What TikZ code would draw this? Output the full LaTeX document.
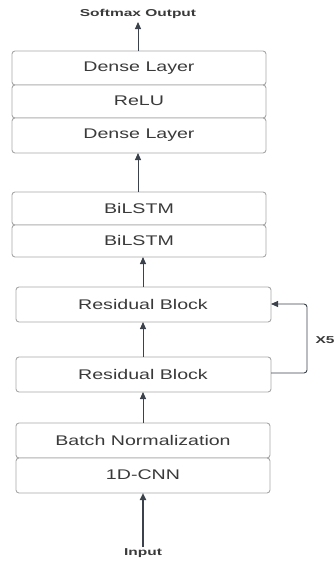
\documentclass[tikz,border=0pt]{standalone}
\usepackage{fontspec}
\setmainfont{Liberation Sans}
\newfontfamily\boxfont[FakeStretch=1.4]{Liberation Sans}
\newfontfamily\lblfont[FakeStretch=1.55]{Liberation Sans}
\usetikzlibrary{arrows.meta}
\definecolor{txt}{HTML}{3A3A3A}
\definecolor{edge}{HTML}{A8A8A8}
\definecolor{arr}{HTML}{3B424C}
\tikzset{
  layer/.style={draw=edge, line width=0.9pt, rounded corners=3pt, fill=white},
  ltext/.style={text=txt, font=\boxfont\fontsize{14}{14}\selectfont, inner sep=0pt},
  blabel/.style={text=txt, font=\lblfont\bfseries\fontsize{10}{10}\selectfont, inner sep=0pt},
  flow/.style={draw=arr, line width=0.9pt, -{Triangle[length=7pt,width=6pt]}},
  thickflow/.style={draw=arr, line width=1.8pt, -{Triangle[length=7pt,width=6pt]}},
}
\begin{document}
\begin{tikzpicture}[x=1pt,y=-1pt]
\useasboundingbox (0,0) rectangle (335,563);
% top group
\draw[layer] (12,51) rectangle (266,85);
\draw[layer] (12,85) rectangle (266,118);
\draw[layer] (12,118) rectangle (266,153);
\node[ltext] (d2) at (139,68) {Dense Layer};
\node[ltext] (relu) at (139,101) {ReLU};
\node[ltext] (d1) at (139,135) {Dense Layer};
\coordinate (topT) at (138,51);
\coordinate (topB) at (138,153);
% bilstm group
\draw[layer] (12,192) rectangle (266,225);
\draw[layer] (12,225) rectangle (266,257);
\node[ltext] (b2) at (139,208) {BiLSTM};
\node[ltext] (b1) at (139,240) {BiLSTM};
\coordinate (biT) at (138,192);
\coordinate (biB) at (143,257);
% residual blocks
\draw[layer] (16,287) rectangle (271,322);
\node[ltext] (r1) at (143,304) {Residual Block};
\draw[layer] (16,357) rectangle (271,392);
\node[ltext] (r2) at (143,374) {Residual Block};
\coordinate (r1T) at (143,287);
\coordinate (r1B) at (143,322);
\coordinate (r1R) at (271,304);
\coordinate (r2T) at (143,357);
\coordinate (r2B) at (143,392);
\coordinate (r2R) at (271,373);
% batch norm / cnn
\draw[layer] (16,423) rectangle (270,458);
\draw[layer] (16,458) rectangle (270,493);
\node[ltext] (bn) at (143,440) {Batch Normalization};
\node[ltext] (cnn) at (143,475) {1D-CNN};
\coordinate (bnT) at (143,423);
\coordinate (cnnB) at (143,493);
% labels
\node[blabel] (out) at (138,14) {Softmax Output};
\node[blabel] (inp) at (143,553) {Input};
\node[blabel] (x5) at (325,340) {X5};
\coordinate (outP) at (138,22);
\coordinate (inP) at (143,547);
% arrows
\draw[flow] (topT) -- (outP);
\draw[flow] (biT) -- (topB);
\draw[flow] (r1T) -- (biB);
\draw[flow] (r2T) -- (r1B);
\draw[flow] (bnT) -- (r2B);
\draw[thickflow] (inP) -- (cnnB);
\draw[flow, rounded corners=3pt] (r2R) -- (307,373) -- (307,304) -- (r1R);
\end{tikzpicture}
\end{document}
